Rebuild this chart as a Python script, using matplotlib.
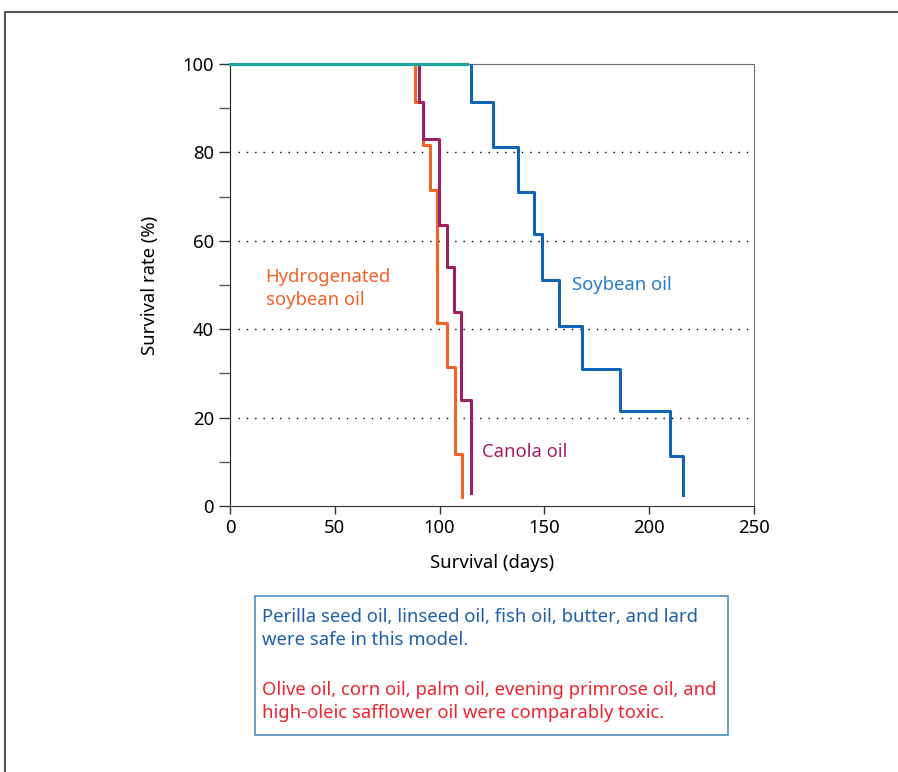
import matplotlib
matplotlib.use("Agg")
import matplotlib.pyplot as plt
from matplotlib.lines import Line2D
from matplotlib.patches import Rectangle

plt.rcParams["font.family"] = ["Noto Sans", "DejaVu Sans"]

# Kaplan-Meier steps (days, survival %)
soy_days = [115.0, 125.6, 137.3, 145.0, 149.0, 157.0, 167.8, 186.1, 209.9, 216.3]
soy_surv = [91.5, 81.2, 71.0, 61.5, 51.1, 40.7, 31.1, 21.5, 11.4, 2.5]
hyd_days = [88.3, 92.1, 95.4, 98.6, 103.4, 107.3, 110.8]
hyd_surv = [91.5, 81.7, 71.5, 41.3, 31.5, 11.8, 2.0]
can_days = [90.3, 91.9, 99.9, 103.5, 107.1, 110.4, 115.0]
can_surv = [91.5, 83.0, 63.5, 54.0, 44.0, 24.0, 3.0]
safe_days = [0, 113.2]
safe_surv = [100, 100]

grid_levels = [20, 40, 60, 80]
x_ticks = [0, 50, 100, 150, 200, 250]
y_ticks = [0, 20, 40, 60, 80, 100]

fs = 13.3

fig = plt.figure(figsize=(8.98, 7.72), dpi=100)
ax = fig.add_axes([0.2561, 0.3446, 0.5836, 0.5725])

ax.hlines(grid_levels, 4, 250, colors="black", linewidth=1.0, linestyles=(0, (1, 5)), zorder=1)

ax.step([soy_days[0]] + soy_days, [100] + soy_surv, where="post", color="#1063b5", lw=2.2, zorder=3)
ax.step([hyd_days[0]] + hyd_days, [100] + hyd_surv, where="post", color="#f26424", lw=2.2, zorder=4)
ax.step([can_days[0]] + can_days, [100] + can_surv, where="post", color="#9e1f62", lw=2.2, zorder=5)
ax.plot(safe_days, safe_surv, color="#1aa39a", lw=2.3, zorder=6, clip_on=False)

ax.set_xlim(0, 250)
ax.set_ylim(0, 100)
ax.set_xticks(x_ticks)
ax.set_yticks(y_ticks)
ax.set_yticks(range(10, 100, 20), minor=True)
ax.tick_params(axis="both", labelsize=fs, direction="out", length=8, width=1, colors="#333333",
               labelcolor="black")
ax.tick_params(axis="y", which="minor", length=8, width=1, colors="#555555")
ax.tick_params(axis="x", length=6)
for s in ["top", "right"]:
    ax.spines[s].set_color("#707070")
ax.spines["left"].set_color("#222222")
ax.spines["bottom"].set_color("#333333")

ax.set_xlabel("Survival (days)", fontsize=fs, labelpad=12)
ax.set_ylabel("Survival rate (%)", fontsize=fs, labelpad=17)

ax.text(17, 49.3, "Hydrogenated\nsoybean oil", color="#f4622a", fontsize=fs, ha="left", va="center",
        linespacing=1.35)
ax.text(163, 50, "Soybean oil", color="#2a7cc7", fontsize=fs, ha="left", va="center")
ax.text(120, 12.3, "Canola oil", color="#a3206b", fontsize=fs, ha="left", va="center")

# note box below the chart
fig.add_artist(Rectangle((255 / 898, 1 - 735 / 772), 473 / 898, 139 / 772, transform=fig.transFigure,
                         fill=False, edgecolor="#4b8fc2", lw=1.2))
fig.text(262 / 898, 1 - 628.5 / 772,
         "Perilla seed oil, linseed oil, fish oil, butter, and lard\nwere safe in this model.",
         color="#1f5faa", fontsize=fs, ha="left", va="center", linespacing=1.38)
fig.text(262 / 898, 1 - 701.5 / 772,
         "Olive oil, corn oil, palm oil, evening primrose oil, and\nhigh-oleic safflower oil were comparably toxic.",
         color="#ee2530", fontsize=fs, ha="left", va="center", linespacing=1.38)

# outer frame (top and left edges visible)
fig.add_artist(Line2D([5 / 898, 5 / 898, 1.0], [0.0, 1 - 12 / 772, 1 - 12 / 772], transform=fig.transFigure,
                      color="#555555", lw=1.5))

fig.savefig("out.png", dpi=100)
